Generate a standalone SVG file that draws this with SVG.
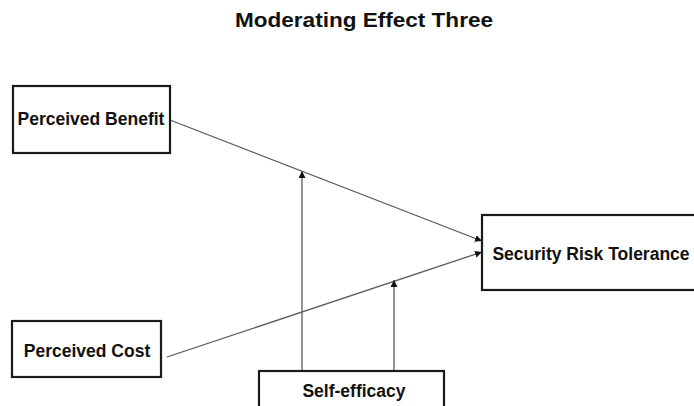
<svg xmlns="http://www.w3.org/2000/svg" width="694" height="406" viewBox="0 0 694 406">
  <style>
    .box { fill: #ffffff; stroke: #1a1a1a; stroke-width: 2.2; }
    .label { font-family: "Liberation Sans", Arial, sans-serif; font-weight: bold; font-size: 17.5px; fill: #111111; text-anchor: middle; }
    .title { font-family: "Liberation Sans", Arial, sans-serif; font-weight: bold; font-size: 21px; fill: #111111; text-anchor: middle; }
    .edge { fill: none; stroke: #5a5a5a; stroke-width: 1.3; marker-end: url(#arrow); }
  </style>
  <defs>
    <marker id="arrow" viewBox="0 0 10 10" refX="10" refY="5" markerWidth="7" markerHeight="7" markerUnits="userSpaceOnUse" orient="auto">
      <path d="M0,0 L10,5 L0,10 Z" fill="#111111"/>
    </marker>
  </defs>

  <rect width="694" height="406" fill="#ffffff"/>

  <text class="title" x="364" y="27" textLength="258" lengthAdjust="spacingAndGlyphs">Moderating Effect Three</text>

  <!-- connectors: direct effects and moderation paths -->
  <g id="connectors">
    <line class="edge" x1="170" y1="120" x2="482" y2="241"/>
    <line class="edge" x1="167" y1="357" x2="482" y2="252"/>
    <line class="edge" x1="302" y1="371" x2="302" y2="171"/>
    <line class="edge" x1="394" y1="371" x2="394" y2="280"/>
  </g>

  <g id="perceived-benefit">
    <rect class="box" x="13" y="86" width="157" height="67"/>
    <text class="label" x="91" y="125">Perceived Benefit</text>
  </g>

  <g id="perceived-cost">
    <rect class="box" x="12" y="321" width="149" height="56"/>
    <text class="label" x="87" y="357">Perceived Cost</text>
  </g>

  <g id="security-risk-tolerance">
    <rect class="box" x="482" y="215" width="220" height="75"/>
    <text class="label" x="591" y="260">Security Risk Tolerance</text>
  </g>

  <g id="self-efficacy">
    <rect class="box" x="259" y="371" width="185" height="50"/>
    <text class="label" x="354" y="397">Self-efficacy</text>
  </g>
</svg>
